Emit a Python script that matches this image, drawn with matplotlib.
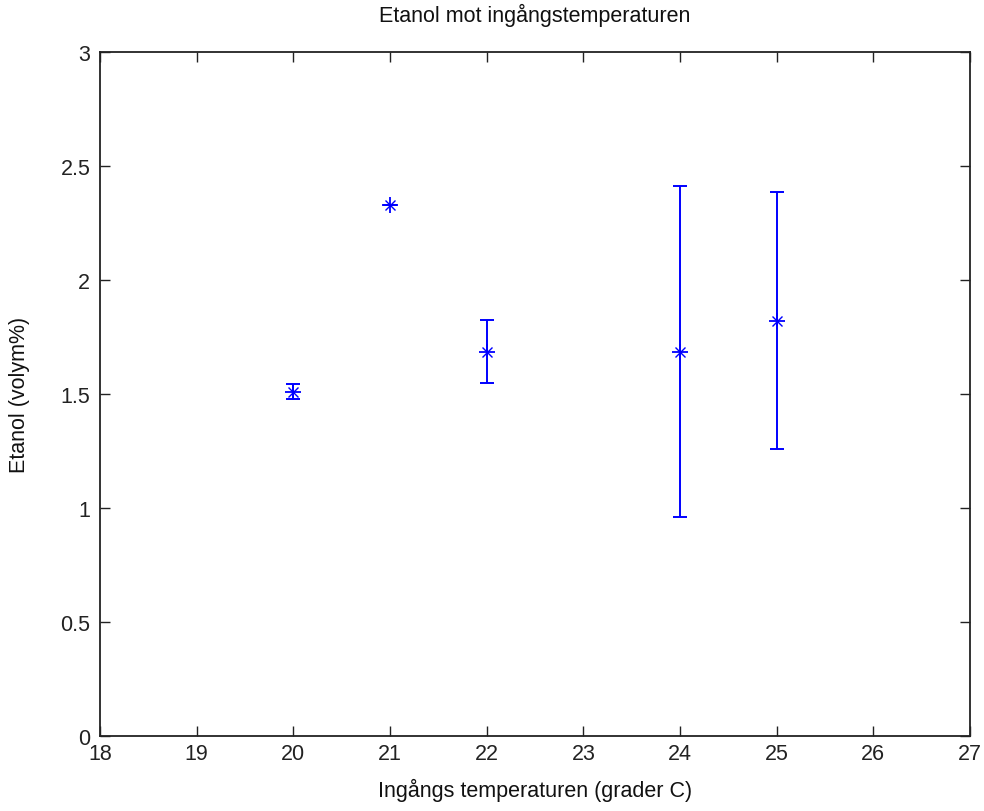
import matplotlib
matplotlib.use("Agg")
import matplotlib.pyplot as plt

temperatures = [20, 21, 22, 24, 25]
etanol_mean = [1.510, 2.330, 1.686, 1.686, 1.822]
etanol_err = [0.033, 0.0, 0.139, 0.725, 0.565]

x_ticks = [18, 19, 20, 21, 22, 23, 24, 25, 26, 27]
y_ticks = [0, 0.5, 1, 1.5, 2, 2.5, 3]
y_tick_labels = ["0", "0.5", "1", "1.5", "2", "2.5", "3"]

plt.rcParams['font.family'] = ['Liberation Sans', 'DejaVu Sans']

fig = plt.figure(figsize=(9.84, 8.12), dpi=100)
ax = fig.add_axes([100/984, 75/812, 870/984, 684/812])

ax.errorbar(temperatures, etanol_mean, yerr=etanol_err, fmt='none',
            ecolor='#0000ff', elinewidth=1.4, capsize=5, capthick=1.4)
ax.plot(temperatures, etanol_mean, linestyle='none', marker='+',
        markersize=11, color='#0000ff', markeredgewidth=1.3)
ax.plot(temperatures, etanol_mean, linestyle='none', marker='x',
        markersize=6.5, color='#0000ff', markeredgewidth=1.0)

ax.set_xlim(18, 27)
ax.set_ylim(0, 3)
ax.set_xticks(x_ticks)
ax.set_yticks(y_ticks)
ax.set_yticklabels(y_tick_labels)
ax.tick_params(direction='in', top=True, right=True, length=7, width=1,
               labelsize=15.5, colors='#222222')
ax.tick_params(axis='x', pad=5)
ax.tick_params(axis='y', pad=7)
for s in ax.spines.values():
    s.set_linewidth(1.3)
    s.set_color('#222222')

ax.set_title("Etanol mot ingångstemperaturen", fontsize=15.5, pad=22,
             color='#111111')
ax.set_xlabel("Ingångs temperaturen (grader C)", fontsize=15.5, labelpad=10,
              color='#111111')
ax.set_ylabel("Etanol (volym%)", fontsize=15.5, labelpad=22, color='#111111')

fig.savefig("out.png", dpi=100)
